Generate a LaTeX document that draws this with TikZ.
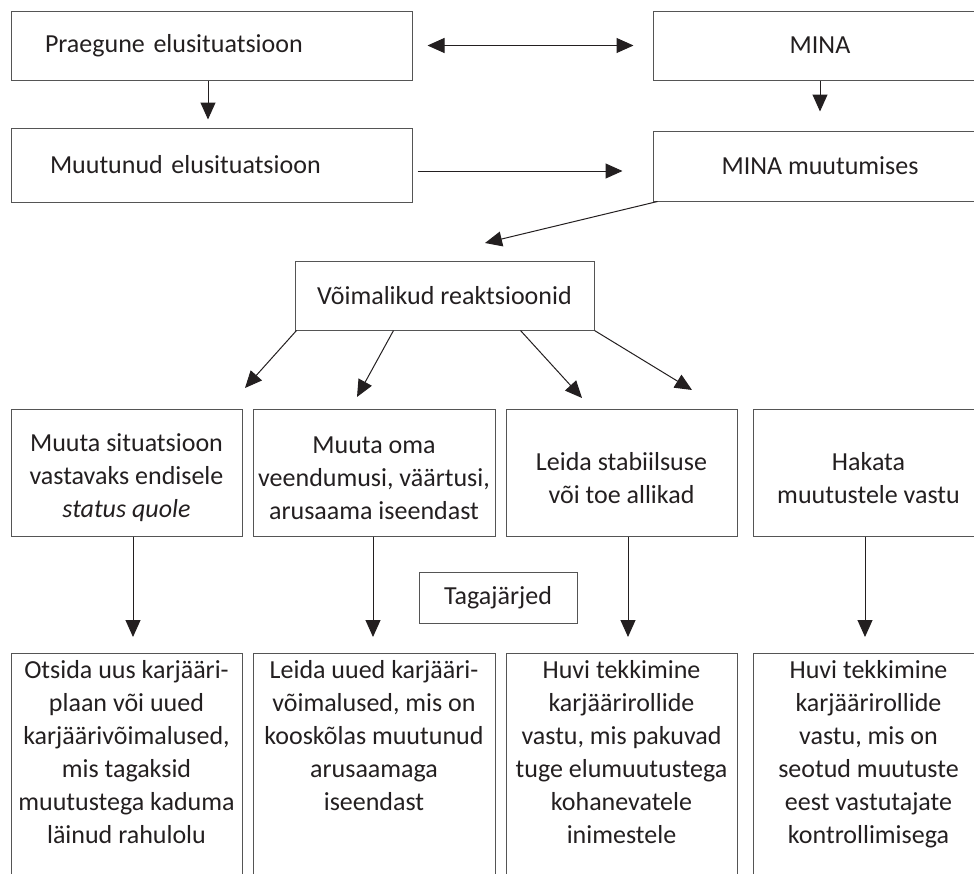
\documentclass[tikz,border=0pt]{standalone}
\usepackage{fontspec}
\setmainfont{Carlito}
\usetikzlibrary{arrows.meta}
\definecolor{ink}{HTML}{231F20}
\definecolor{frame}{HTML}{555555}
\begin{document}
\begin{tikzpicture}[x=1pt,y=-1pt,
  fbox/.style={draw=frame, line width=1pt, inner sep=0pt, text=ink,
    font=\fontsize{26}{33}\selectfont},
  txt/.style={inner sep=0pt, text=ink, align=center,
    font=\fontsize{26}{33}\selectfont},
  arr/.style={draw=ink, line width=1pt, -{Triangle[length=17pt,width=15pt]}},
  dbl/.style={draw=ink, line width=1pt,
    {Triangle[length=17pt,width=15pt]}-{Triangle[length=17pt,width=15pt]}}
]
\useasboundingbox (0,0) rectangle (974,873);
\clip (0,0) rectangle (974,873);

% top rows
\node[fbox, minimum width=401pt, minimum height=69pt, text width=333pt, inner xsep=34pt, align=left]
  (b1) at (211.5,45.5) {Praegune elusituatsioon};
\node[fbox, minimum width=401pt, minimum height=74pt, text width=323pt, inner xsep=39pt, align=left]
  (b2) at (211.5,165) {Muutunud elusituatsioon};
\node[fbox, minimum width=334pt, minimum height=69pt] (mina) at (820,45.5) {MINA};
\node[fbox, minimum width=334pt, minimum height=70pt] (minam) at (820,166) {MINA muutumises};
\node[fbox, minimum width=299pt, minimum height=69pt] (vr) at (444.5,295.5) {Võimalikud reaktsioonid};

% middle row boxes
\node[fbox, minimum width=231pt, minimum height=127pt] (ma) at (126.5,472.5) {};
\node[fbox, minimum width=242pt, minimum height=127pt] (mb) at (374,472.5) {};
\node[fbox, minimum width=231pt, minimum height=127pt] (mc) at (621.5,472.5) {};
\node[fbox, minimum width=231pt, minimum height=127pt] (md) at (868.5,472.5) {};
\node[txt] (ta) at (126.5,478) {Muuta situatsioon\\vastavaks endisele\\\textit{status quole}};
\node[txt] (tb) at (374,478) {Muuta oma\\veendumusi, väärtusi,\\arusaama iseendast};
\node[txt] (tc) at (621.5,478) {Leida stabiilsuse\\või toe allikad};
\node[txt] (td) at (868.5,478) {Hakata\\muutustele vastu};

% consequences label
\node[fbox, minimum width=158pt, minimum height=51pt] (tag) at (498,597.5) {Tagajärjed};

% bottom row boxes
\node[fbox, minimum width=231pt, minimum height=240pt, anchor=north] (ba) at (126.5,653) {};
\node[fbox, minimum width=242pt, minimum height=240pt, anchor=north] (bb) at (374,653) {};
\node[fbox, minimum width=231pt, minimum height=240pt, anchor=north] (bc) at (621.5,653) {};
\node[fbox, minimum width=231pt, minimum height=240pt, anchor=north] (bd) at (868.5,653) {};
\node[txt, anchor=north] (ua) at (126.5,660) {Otsida uus karjääri-\\plaan või uued\\karjäärivõimalused,\\mis tagaksid\\muutustega kaduma\\läinud rahulolu};
\node[txt, anchor=north] (ub) at (374,660) {Leida uued karjääri-\\võimalused, mis on\\kooskõlas muutunud\\arusaamaga\\iseendast};
\node[txt, anchor=north] (uc) at (621.5,660) {Huvi tekkimine\\karjäärirollide\\vastu, mis pakuvad\\tuge elumuutustega\\kohanevatele\\inimestele};
\node[txt, anchor=north] (ud) at (868.5,660) {Huvi tekkimine\\karjäärirollide\\vastu, mis on\\seotud muutuste\\eest vastutajate\\kontrollimisega};

% free arrow ends
\coordinate (t0) at (485,243);
\coordinate (t1) at (245,388);
\coordinate (t2) at (357,397);
\coordinate (t3) at (582,398);
\coordinate (t4) at (692,390);
\coordinate (d1) at (133,637);
\coordinate (d2) at (373,637);
\coordinate (d3) at (628,637);
\coordinate (d4) at (865,637);

% connectors
\draw[dbl] ([xshift=15pt]b1.east) -- ([xshift=-19pt]mina.west);
\draw[arr] ([xshift=-3.5pt]b1.south) -- ([xshift=-3.5pt,yshift=8pt]b2.north);
\draw[arr] (mina.south) -- ([yshift=19pt]minam.north);
\draw[arr] ([xshift=5pt,yshift=-6pt]b2.east) -- ([xshift=-30pt,yshift=-5pt]minam.west);
\draw[arr] ([xshift=5pt]minam.south west) -- (t0);
\draw[arr] ([xshift=2pt]vr.south west) -- (t1);
\draw[arr] ([xshift=99pt]vr.south west) -- (t2);
\draw[arr] ([xshift=226pt]vr.south west) -- (t3);
\draw[arr] (vr.south east) -- (t4);
\draw[arr] ([xshift=6.5pt]ma.south) -- (d1);
\draw[arr] ([xshift=-1pt]mb.south) -- (d2);
\draw[arr] ([xshift=6.5pt]mc.south) -- (d3);
\draw[arr] ([xshift=-3.5pt]md.south) -- (d4);
\end{tikzpicture}
\end{document}
